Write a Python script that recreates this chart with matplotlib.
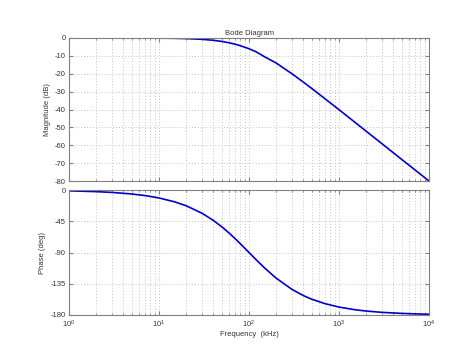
import numpy as np
import matplotlib.pyplot as plt
from matplotlib.ticker import LogLocator, FixedLocator

# frequency points (kHz) and values
freq_khz = [1, 2, 3, 5, 7, 10, 15, 20, 30, 40, 50, 60, 70, 80, 100, 120, 150,
            200, 300, 400, 500, 700, 1000, 1500, 2000, 3000, 5000, 7000, 10000]
mag_db = [0.0, 0.0, 0.0, -0.01, -0.02, -0.09, -0.19, -0.34, -0.75, -1.29, -1.94,
          -2.67, -3.46, -4.30, -6.02, -7.74, -10.6, -13.98, -20.0, -24.6, -28.3,
          -34.0, -40.1, -47.1, -52.1, -59.1, -68.0, -73.8, -80.0]
phase_deg = [-1.15, -2.29, -3.44, -5.72, -8.01, -11.4, -17.1, -22.6, -33.4, -43.6,
             -53.1, -61.9, -69.9, -77.3, -90.0, -100.4, -112.6, -126.9, -143.1,
             -151.9, -157.4, -163.7, -168.6, -172.4, -174.3, -176.2, -177.7,
             -178.4, -178.9]

mag_ticks = [0, -10, -20, -30, -40, -50, -60, -70, -80]
phase_ticks = [0, -45, -90, -135, -180]

plt.rcParams['font.family'] = ['Liberation Sans', 'DejaVu Sans']
plt.rcParams['font.size'] = 5.5
plt.rcParams['axes.unicode_minus'] = False

fig = plt.figure(figsize=(4.74, 3.55), dpi=100)
ax1 = fig.add_axes([0.1456, 0.490, 0.7595, 0.403])
ax2 = fig.add_axes([0.1456, 0.1127, 0.7595, 0.352])

line_col = '#0000cc'
grid_col = '#c4c4c4'
edge_col = '#808080'
text_col = '#333333'

for ax in (ax1, ax2):
    ax.set_xscale('log')
    ax.set_xlim(1, 1e4)
    ax.xaxis.set_major_locator(LogLocator(base=10, numticks=10))
    ax.xaxis.set_minor_locator(LogLocator(base=10, subs=np.arange(2, 10), numticks=10))
    ax.grid(True, which='both', linestyle=(0, (1, 2)), color=grid_col, linewidth=0.7)
    ax.tick_params(which='both', direction='in', top=True, right=True,
                   colors=edge_col, labelcolor=text_col, labelsize=5.5, pad=2.5)
    ax.tick_params(which='major', length=3)
    ax.tick_params(which='minor', length=1.5)
    for s in ax.spines.values():
        s.set_color(edge_col)
        s.set_linewidth(0.8)

ax1.plot(freq_khz, mag_db, color=line_col, linewidth=1.2)
ax1.set_ylim(-80, 0)
ax1.yaxis.set_major_locator(FixedLocator(mag_ticks))
ax1.tick_params(axis='x', which='both', labelbottom=False)
ax1.set_ylabel('Magnitude (dB)', fontsize=5.5, color=text_col, labelpad=3)
ax1.set_title('Bode Diagram', fontsize=5.5, color=text_col, pad=2)

ax2.plot(freq_khz, phase_deg, color=line_col, linewidth=1.2)
ax2.set_ylim(-180, 0)
ax2.yaxis.set_major_locator(FixedLocator(phase_ticks))
ax2.set_ylabel('Phase (deg)', fontsize=5.5, color=text_col, labelpad=3)
ax2.set_xlabel('Frequency  (kHz)', fontsize=5.5, color=text_col, labelpad=1)

fig.savefig('out.png', dpi=100, facecolor='white')
